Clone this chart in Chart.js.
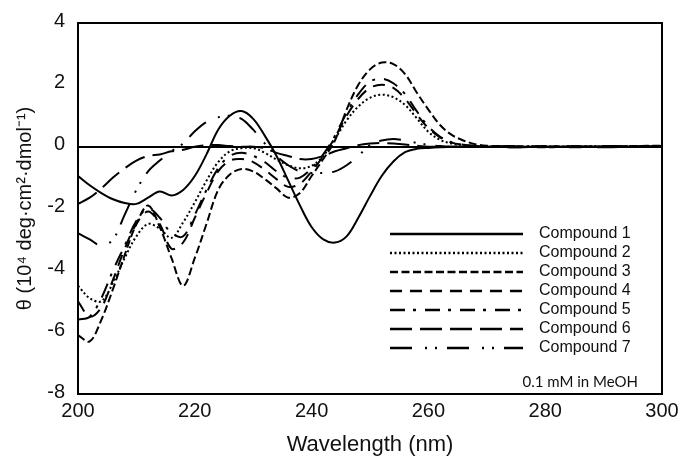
<!DOCTYPE html>
<html>
<head>
<meta charset="utf-8">
<script src="https://cdn.jsdelivr.net/npm/chart.js@4.4.1/dist/chart.umd.min.js"></script>
<style>
  html, body { margin: 0; padding: 0; background: #fff; }
</style>
</head>
<body>
<canvas id="cdChart" width="682" height="464"></canvas>
<script>
// wavelength grid (nm)
const wavelengths = [200, 202, 204, 206, 208, 210, 212, 214, 216, 218, 220, 222, 224, 226, 228, 230, 232, 234,
    236, 238, 240, 242, 244, 246, 248, 250, 252, 254, 256, 258, 260, 262, 264, 266, 268, 270,
    275, 280, 285, 290, 295, 300];

// theta values, 10^4 deg cm2 dmol-1
const compound1 = [-0.95, -1.25, -1.5, -1.7, -1.82, -1.85, -1.65, -1.45, -1.58, -1.4, -0.95, -0.25, 0.55, 1.0, 1.15, 0.9, 0.35, -0.3,
    -1.1, -1.9, -2.6, -3.0, -3.1, -2.9, -2.3, -1.6, -0.95, -0.48, -0.18, -0.07, -0.04, -0.02, -0.01, 0, 0, 0,
    0, 0, 0, 0, 0, 0];
const compound2 = [-4.5, -4.9, -5.0, -4.4, -3.6, -2.9, -2.5, -2.65, -2.95, -2.45, -1.8, -1.1, -0.5, -0.15, -0.05, -0.05, -0.2, -0.42,
    -0.6, -0.7, -0.62, -0.3, 0.25, 0.85, 1.3, 1.58, 1.68, 1.6, 1.35, 0.92, 0.48, 0.22, 0.1, 0.05, 0.02, 0,
    0.01, 0, 0.01, 0, 0.01, 0.02];
const compound3 = [-6.1, -6.3, -5.6, -4.6, -3.5, -2.5, -1.9, -2.6, -3.6, -4.5, -3.6, -2.5, -1.4, -0.9, -0.72, -0.8, -1.05, -1.35,
    -1.65, -1.5, -0.95, -0.4, 0.2, 1.2, 2.0, 2.5, 2.72, 2.67, 2.35, 1.75, 1.2, 0.7, 0.38, 0.2, 0.08, 0.03,
    0.01, -0.02, 0.01, 0, 0.02, 0.03];
const compound4 = [-5.0, -5.5, -5.2, -4.3, -3.3, -2.5, -2.1, -2.5, -3.3, -3.1, -2.3, -1.5, -0.8, -0.45, -0.4, -0.5, -0.75, -1.05,
    -1.3, -1.2, -0.8, -0.3, 0.3, 1.0, 1.55, 1.9, 2.0, 1.9, 1.55, 1.05, 0.6, 0.3, 0.13, 0.06, 0.02, 0,
    -0.02, 0, -0.02, 0.01, 0, 0.02];
const compound5 = [-5.6, -5.5, -4.9, -4.0, -3.2, -2.4, -2.0, -2.3, -2.8, -2.9, -2.2, -1.4, -0.7, -0.3, -0.2, -0.3, -0.5, -0.8,
    -1.0, -1.0, -0.7, -0.25, 0.35, 1.1, 1.7, 2.1, 2.2, 2.05, 1.7, 1.15, 0.65, 0.32, 0.14, 0.06, 0.02, 0,
    0, 0.02, 0, 0.02, 0.01, 0];
const compound6 = [-1.85, -1.65, -1.35, -1.0, -0.7, -0.45, -0.3, -0.25, -0.15, -0.1, 0.0, 0.05, 0.05, 0.02, 0.0, 0.0, -0.05, -0.2,
    -0.3, -0.4, -0.4, -0.3, -0.15, -0.05, 0.05, 0.1, 0.12, 0.1, 0.07, 0.03, 0, 0, 0, 0, 0, 0,
    -0.02, 0, 0.01, -0.02, 0, 0.01];
const compound7 = [-2.8, -3.0, -3.2, -3.0, -2.2, -1.4, -0.8, -0.45, -0.15, 0.1, 0.5, 0.8, 0.95, 1.0, 0.9, 0.55, 0.1, -0.3,
    -0.6, -0.8, -0.85, -0.85, -0.8, -0.6, -0.3, 0.05, 0.2, 0.25, 0.2, 0.12, 0.06, 0.02, 0, 0, 0, 0,
    0.02, 0, -0.01, 0.02, 0, 0.01];

const seriesNames = ['Compound 1', 'Compound 2', 'Compound 3', 'Compound 4', 'Compound 5', 'Compound 6', 'Compound 7'];
const seriesValues = [compound1, compound2, compound3, compound4, compound5, compound6, compound7];
const xTicks = [200, 220, 240, 260, 280, 300];
const yTicks = [-8, -6, -4, -2, 0, 2, 4];

const dashStyles = [[], [2, 2.5], [8, 3.5], [12, 8], [15, 8, 3, 9], [22, 8], [22, 13, 2, 8, 2, 10]];

const datasets = seriesNames.map((name, i) => ({
    label: name,
    data: wavelengths.map((w, j) => ({ x: w, y: seriesValues[i][j] })),
    borderColor: '#000',
    borderWidth: 2,
    borderDash: dashStyles[i],
    pointRadius: 0,
    fill: false,
    tension: 0.35
}));

// box around the plot + inline legend
const framePlugin = {
    id: 'frame',
    afterDatasetsDraw(chart) {
        const { ctx, chartArea: a } = chart;
        ctx.save();
        ctx.strokeStyle = '#000';
        ctx.lineWidth = 2;
        ctx.setLineDash([]);
        ctx.strokeRect(a.left, a.top, a.right - a.left, a.bottom - a.top);

        const lx0 = a.right - 272, lx1 = a.right - 139, tx = a.right - 123;
        let ly = a.bottom - 160;
        ctx.font = '16px "Liberation Sans", Arial, sans-serif';
        ctx.fillStyle = '#111';
        ctx.textBaseline = 'middle';
        ctx.textAlign = 'left';
        chart.data.datasets.forEach(ds => {
            ctx.setLineDash(ds.borderDash);
            ctx.lineWidth = 2.5;
            ctx.beginPath();
            ctx.moveTo(lx0, ly);
            ctx.lineTo(lx1, ly);
            ctx.stroke();
            ctx.fillText(ds.label, tx, ly);
            ly += 19;
        });
        ctx.font = '15px Lato, "Open Sans", sans-serif';
        ctx.textAlign = 'right';
        ctx.fillText('0.1 mM in MeOH', a.right - 24, a.bottom - 12);
        ctx.restore();
    }
};

new Chart(document.getElementById('cdChart'), {
    type: 'line',
    data: { datasets },
    options: {
        responsive: false,
        animation: false,
        devicePixelRatio: 1,
        layout: { padding: { top: 23, right: 20, left: 0, bottom: 0 } },
        plugins: { legend: { display: false }, tooltip: { enabled: false } },
        scales: {
            x: {
                type: 'linear',
                min: 200, max: 300,
                afterBuildTicks: s => { s.ticks = xTicks.map(v => ({ value: v })); },
                afterFit: s => { s.height = 70; },
                ticks: { color: '#111', padding: -3, font: { family: '"Liberation Sans", Arial', size: 20 } },
                grid: { display: false },
                border: { display: false },
                title: {
                    display: true, text: 'Wavelength (nm)', color: '#111',
                    font: { family: '"Liberation Sans", Arial', size: 22 },
                    padding: { top: 0, bottom: 6 }
                }
            },
            y: {
                min: -8, max: 4,
                afterBuildTicks: s => { s.ticks = yTicks.map(v => ({ value: v })); },
                afterFit: s => { s.width = 78; s.paddingTop = 0; s.paddingBottom = 0; },
                ticks: { color: '#111', padding: 13, labelOffset: -2, font: { family: '"Liberation Sans", Arial', size: 20 } },
                grid: {
                    drawTicks: false,
                    color: c => (c.tick && c.tick.value === 0 ? '#000' : 'rgba(0,0,0,0)'),
                    lineWidth: 2
                },
                border: { display: false },
                title: {
                    display: true, text: 'θ (10⁴ deg·cm²·dmol⁻¹)', color: '#111',
                    font: { family: '"Liberation Sans", Arial', size: 20 },
                    padding: { top: 13, bottom: 0 }
                }
            }
        }
    },
    plugins: [framePlugin]
});
</script>
</body>
</html>
